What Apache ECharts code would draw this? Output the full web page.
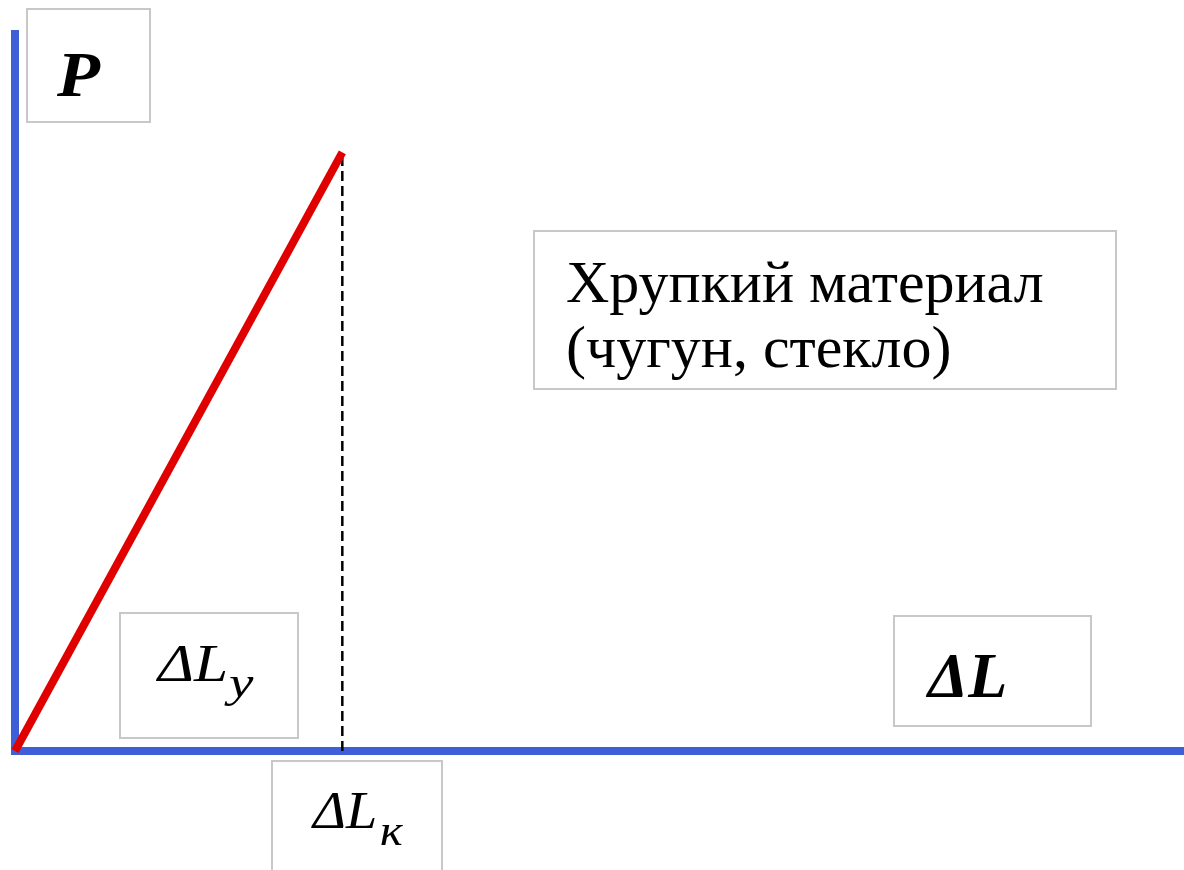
<!DOCTYPE html>
<html>
<head>
<meta charset="utf-8">
<script src="https://cdn.jsdelivr.net/npm/echarts@6/dist/echarts.min.js"></script>
<style>
  html, body { margin: 0; padding: 0; background: #fff; }
  #main { width: 1184px; height: 870px; }
</style>
</head>
<body>
<div id="main"></div>
<script>
// диаграмма растяжения хрупкого материала
var deformation = [0, 28];   // ΔL
var force = [0, 83.5];       // P
var breakDeform = 28;        // ΔLк
var breakForce = 83.5;

var axisBlue = '#3f5fd8';
var serif = '"Liberation Serif", "DejaVu Serif", serif';

var chart = echarts.init(document.getElementById('main'));

function box(x, y, w, h, children) {
  return {
    type: 'group',
    left: x, top: y,
    children: [{
      type: 'rect',
      shape: { x: 0, y: 0, width: w, height: h },
      style: { fill: '#fff', stroke: '#c8c8c8', lineWidth: 2 }
    }].concat(children)
  };
}

function txt(x, y, text, size, weight, style, sx) {
  return {
    type: 'text',
    x: x, y: y,
    scaleX: sx || 1,
    style: {
      text: text, fill: '#000',
      font: (style || 'normal') + ' ' + (weight || 'normal') + ' ' + size + 'px ' + serif,
      textVerticalAlign: 'middle'
    }
  };
}

var option = {
  animation: false,
  backgroundColor: '#fff',
  grid: { left: 15, right: 0, top: 34, bottom: 119 },
  xAxis: {
    type: 'value', min: 0, max: 100,
    axisLine: { show: true, lineStyle: { color: axisBlue, width: 8, cap: 'square' } },
    axisTick: { show: false }, axisLabel: { show: false }, splitLine: { show: false }
  },
  yAxis: {
    type: 'value', min: 0, max: 100,
    axisLine: { show: true, lineStyle: { color: axisBlue, width: 8, cap: 'square' } },
    axisTick: { show: false }, axisLabel: { show: false }, splitLine: { show: false }
  },
  series: [
    {
      type: 'line',
      data: [[breakDeform, 0], [breakDeform, breakForce]],
      symbol: 'none',
      lineStyle: { color: '#000', width: 2.5, type: [10, 5] },
      z: 3
    },
    {
      type: 'line',
      data: deformation.map(function (d, i) { return [d, force[i]]; }),
      symbol: 'none',
      lineStyle: { color: '#e00000', width: 8 },
      z: 4
    }
  ],
  graphic: [
    box(26, 8, 123, 113, [txt(30, 70, 'P', 64, 'bold', 'italic', 1.1)]),
    box(533, 230, 582, 158, [
      txt(32, 55, 'Хрупкий материал', 60),
      txt(32, 120, '(чугун, стекло)', 60)
    ]),
    box(119, 612, 178, 125, [
      txt(38, 54, 'ΔL', 52, 'normal', 'italic', 1.18),
      txt(109, 72, 'у', 44, 'normal', 'italic', 1.25)
    ]),
    box(893, 615, 197, 110, [txt(34, 64, 'ΔL', 64, 'bold', 'italic')]),
    box(271, 760, 170, 120, [
      txt(41, 53, 'ΔL', 52, 'normal', 'italic', 1.08),
      txt(108, 72, 'к', 44, 'normal', 'italic', 1.1)
    ])
  ]
};

chart.setOption(option);
</script>
</body>
</html>
